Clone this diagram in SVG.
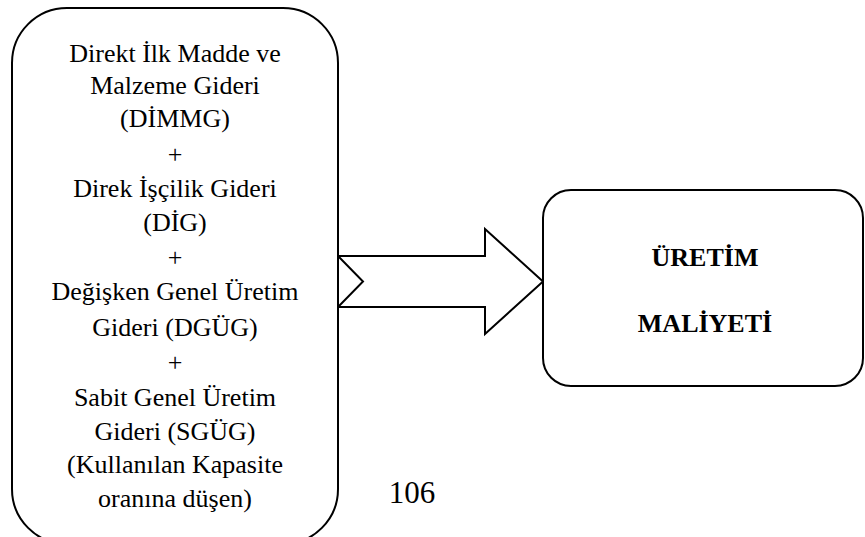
<svg xmlns="http://www.w3.org/2000/svg" width="865" height="537" viewBox="0 0 865 537">
  <style>
    .box { fill: #ffffff; stroke: #000000; stroke-width: 2; }
    .arrow { fill: #ffffff; stroke: #000000; stroke-width: 2; stroke-linejoin: miter; }
    .t { font-family: 'Liberation Serif', 'Times New Roman', serif; font-size: 26px; fill: #000000; text-anchor: middle; }
    .b { font-weight: bold; }
    .pg { font-size: 31px; }
  </style>
  <rect width="865" height="537" fill="#ffffff"/>

  <g id="connectors">
    <!-- notched block arrow from the cost list to the result -->
    <path class="arrow" d="M338,256 L485,256 L485,229 L543,281.5 L485,334 L485,307 L338,307 L363,281.5 Z"/>
  </g>

  <g id="node-costs">
    <rect class="box" x="12" y="8" width="326" height="536" rx="55" ry="55"/>
    <text class="t" x="175" y="62">Direkt İlk Madde ve</text>
    <text class="t" x="175" y="94">Malzeme Gideri</text>
    <text class="t" x="175" y="127">(DİMMG)</text>
    <text class="t" x="175" y="163">+</text>
    <text class="t" x="175" y="197">Direk İşçilik Gideri</text>
    <text class="t" x="175" y="231">(DİG)</text>
    <text class="t" x="175" y="266">+</text>
    <text class="t" x="175" y="300">Değişken Genel Üretim</text>
    <text class="t" x="175" y="336">Gideri (DGÜG)</text>
    <text class="t" x="175" y="371">+</text>
    <text class="t" x="175" y="406">Sabit Genel Üretim</text>
    <text class="t" x="175" y="440">Gideri (SGÜG)</text>
    <text class="t" x="175" y="473">(Kullanılan Kapasite</text>
    <text class="t" x="175" y="507">oranına düşen)</text>
  </g>

  <g id="node-result">
    <rect class="box" x="543" y="190" width="320" height="196" rx="28" ry="28"/>
    <text class="t b" x="705" y="266">ÜRETİM</text>
    <text class="t b" x="705" y="332">MALİYETİ</text>
  </g>

  <g id="page-number">
    <text class="t pg" x="412" y="503">106</text>
  </g>
</svg>
